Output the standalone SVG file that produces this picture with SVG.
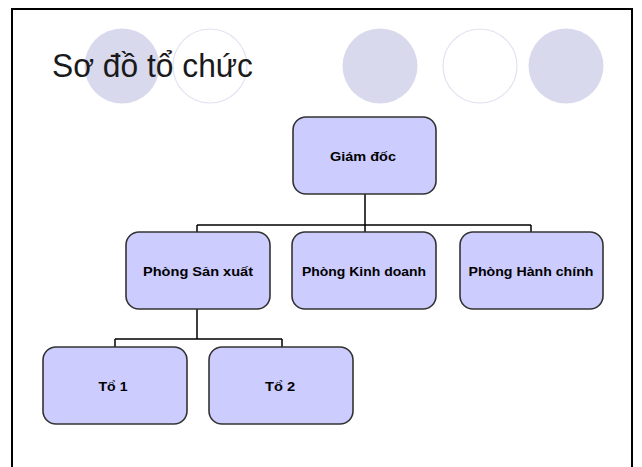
<svg xmlns="http://www.w3.org/2000/svg" width="642" height="467" viewBox="0 0 642 467">
<style>
.bg{fill:#ffffff}
.frame{fill:none;stroke:#000;stroke-width:2}
.dot{fill:#d9d9ee}
.ring{fill:#ffffff;stroke:#e2e2f2;stroke-width:1.2}
.title{font-family:"Liberation Sans",Arial,sans-serif;font-size:33px;fill:#1a1a1a}
.box{fill:#ccccff;stroke:#333;stroke-width:1.6}
.lbl{font-family:"Liberation Sans",Arial,sans-serif;font-size:12.5px;font-weight:bold;fill:#000;text-anchor:middle}
.conn{fill:none;stroke:#000;stroke-width:1.5}
</style>
<rect class="bg" x="0" y="0" width="642" height="467"/>
<path class="frame" d="M12,470 V9 H632 V470"/>
<g id="decor">
<circle class="dot" cx="122" cy="66" r="37.5"/>
<circle class="ring" cx="210" cy="66" r="37"/>
<circle class="dot" cx="380" cy="66" r="37.5"/>
<circle class="ring" cx="480" cy="66" r="37"/>
<circle class="dot" cx="566" cy="66" r="37.5"/>
</g>
<text class="title" x="52" y="77" textLength="201" lengthAdjust="spacingAndGlyphs">Sơ đồ tổ chức</text>
<g id="connectors">
<path class="conn" d="M365,194 V225 M197,225 H531 M197,225 V232 M365,225 V232 M531,225 V232"/>
<path class="conn" d="M197,309 V339 M115,339 H282 M115,339 V347 M282,339 V347"/>
</g>
<g id="giamdoc">
<rect class="box" x="293" y="117" width="143" height="77" rx="13"/>
<text class="lbl" x="363" y="161" textLength="66" lengthAdjust="spacingAndGlyphs">Giám đốc</text>
</g>
<g id="sanxuat">
<rect class="box" x="126" y="232" width="144" height="77" rx="13"/>
<text class="lbl" x="198" y="276" textLength="110" lengthAdjust="spacingAndGlyphs">Phòng Sản xuất</text>
</g>
<g id="kinhdoanh">
<rect class="box" x="292" y="232" width="144" height="77" rx="13"/>
<text class="lbl" x="364" y="276" textLength="124" lengthAdjust="spacingAndGlyphs">Phòng Kinh doanh</text>
</g>
<g id="hanhchinh">
<rect class="box" x="460" y="232" width="143" height="77" rx="13"/>
<text class="lbl" x="531" y="276" textLength="125" lengthAdjust="spacingAndGlyphs">Phòng Hành chính</text>
</g>
<g id="to1">
<rect class="box" x="43" y="347" width="144" height="77" rx="13"/>
<text class="lbl" x="113" y="391" textLength="29" lengthAdjust="spacingAndGlyphs">Tổ 1</text>
</g>
<g id="to2">
<rect class="box" x="209" y="347" width="144" height="77" rx="13"/>
<text class="lbl" x="280" y="391" textLength="30" lengthAdjust="spacingAndGlyphs">Tổ 2</text>
</g>
</svg>
